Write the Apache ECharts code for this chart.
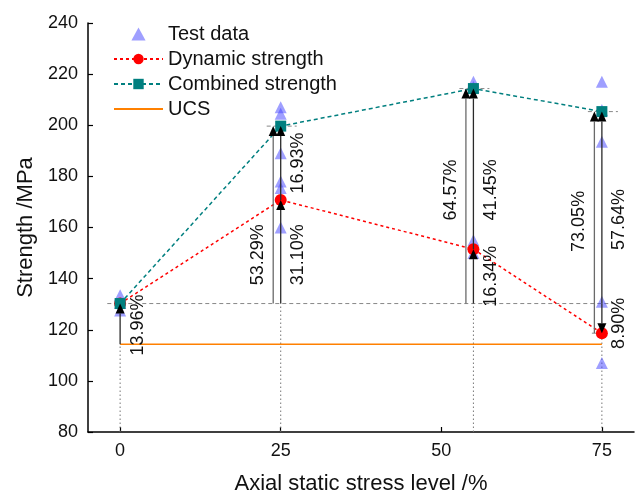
<!DOCTYPE html>
<html>
<head>
<meta charset="utf-8">
<script src="https://cdn.jsdelivr.net/npm/echarts@6/dist/echarts.min.js"></script>
<style>
  html, body { margin: 0; padding: 0; background: #fff; }
  #chart { width: 640px; height: 496px; }
</style>
</head>
<body>
<div id="chart"></div>
<script>
// Axial static stress levels (%) at which the rock was tested
const stressLevels = [0, 25, 55, 75];
const stressTicks = [0, 25, 50, 75];

// Strengths (MPa)
const ucsStrength = 114.3;
const dynamicStrength = [130.25, 170.76, 151.53, 118.66];
const combinedStrength = [130.25, 199.66, 214.35, 205.34];

// Individual specimen results
const testLevels = [0, 0, 0, 25, 25, 25, 25, 25, 25, 55, 55, 55, 55, 75, 75, 75, 75, 75];
const testValues = [133.5, 127.5, 130.5, 207, 204.5, 189, 178, 175.5, 160, 217, 215, 155, 150, 217, 206, 193.5, 131, 107];

// Relative changes annotated on the arrows
const gainLabels = ['13.96%', '53.29%', '31.10%', '16.93%', '64.57%', '16.34%', '41.45%', '73.05%', '57.64%', '8.90%'];

const FONT = "'Liberation Sans', Arial, sans-serif";
const base = dynamicStrength[0];

// Arrow spans: level index, start and end strength, which side of the level, label nudge (px)
const arrows = [
  { i: 0, from: ucsStrength, to: dynamicStrength[0], side: 'right', dy: 1 },
  { i: 1, from: base, to: combinedStrength[1], side: 'left', dy: 40 },
  { i: 1, from: base, to: dynamicStrength[1], side: 'right', dy: 3 },
  { i: 1, from: dynamicStrength[1], to: combinedStrength[1], side: 'right', dy: 0 },
  { i: 2, from: base, to: combinedStrength[2], side: 'left', dy: -6 },
  { i: 2, from: base, to: dynamicStrength[2], side: 'right', dy: 0 },
  { i: 2, from: dynamicStrength[2], to: combinedStrength[2], side: 'right', dy: 21 },
  { i: 3, from: dynamicStrength[3], to: combinedStrength[3], side: 'left', dy: -1 },
  { i: 3, from: base, to: combinedStrength[3], side: 'right', dy: 12 },
  { i: 3, from: base, to: dynamicStrength[3], side: 'right', dy: 5 }
].map((a, k) => Object.assign(a, { x: stressLevels[a.i], text: gainLabels[k] }));

// Lowest point reached by the arrows at each level (dotted drop line stops there)
const lowAt = stressLevels.map((_, i) => {
  let m = Infinity;
  arrows.filter(a => a.i === i).forEach(a => { m = Math.min(m, a.from, a.to); });
  return m;
});

const LEFT_SHIFT = -7.5;

function renderGuides(params, api) {
  const i = params.dataIndex;
  const x = stressLevels[i];
  const bottom = api.coord([x, 80]);
  const low = api.coord([x, lowAt[i]]);
  const children = [];
  children.push({
    type: 'line',
    shape: { x1: bottom[0], y1: bottom[1], x2: low[0], y2: low[1] },
    style: { stroke: '#777', lineWidth: 1, lineDash: [1.5, 2.5] }
  });
  if (i === 0) {
    const a = api.coord([-2, base]);
    const b = api.coord([77, base]);
    children.push({
      type: 'line',
      shape: { x1: a[0], y1: a[1], x2: b[0], y2: b[1] },
      style: { stroke: '#888', lineWidth: 1, lineDash: [4, 3] }
    });
  } else {
    const t = api.coord([x, combinedStrength[i]]);
    children.push({
      type: 'line',
      shape: { x1: t[0] - 14, y1: t[1], x2: t[0] + 16, y2: t[1] },
      style: { stroke: '#888', lineWidth: 1, lineDash: [4, 3] }
    });
  }
  if (i === 3) {
    const d = api.coord([x, dynamicStrength[i]]);
    children.push({
      type: 'line',
      shape: { x1: d[0] - 10, y1: d[1], x2: d[0] + 2, y2: d[1] },
      style: { stroke: '#888', lineWidth: 1, lineDash: [4, 3] }
    });
  }
  return { type: 'group', children };
}

function renderArrow(params, api) {
  const a = arrows[params.dataIndex];
  const p0 = api.coord([a.x, a.from]);
  const p1 = api.coord([a.x, a.to]);
  const px = p0[0] + (a.side === 'left' ? LEFT_SHIFT : 0);
  const dir = p0[1] > p1[1] ? 1 : -1;
  const head = 10, hw = 4.5;
  const tipY = p1[1];
  const baseY = tipY + dir * head;
  const labelX = px + (a.side === 'left' ? -15 : 17.5);
  const labelY = (p0[1] + p1[1]) / 2 + a.dy;
  return {
    type: 'group',
    children: [
      {
        type: 'line',
        shape: { x1: px, y1: p0[1], x2: px, y2: baseY },
        style: { stroke: a.side === 'left' ? '#6a6a6a' : '#2a2a2a', lineWidth: 1.3 }
      },
      {
        type: 'polygon',
        shape: { points: [[px, tipY], [px - hw, baseY], [px + hw, baseY]] },
        style: { fill: '#000' }
      },
      {
        type: 'text',
        x: labelX,
        y: labelY,
        rotation: Math.PI / 2,
        style: {
          text: a.text, fontSize: 18, fontFamily: FONT, fill: '#111',
          align: 'center', verticalAlign: 'middle'
        }
      }
    ]
  };
}

const chart = echarts.init(document.getElementById('chart'), null, { renderer: 'canvas' });
chart.setOption({
  animation: false,
  backgroundColor: '#fff',
  textStyle: { fontFamily: FONT },
  grid: { left: 88, right: 6, top: 23, bottom: 64, containLabel: false, outerBoundsMode: 'none' },
  legend: {
    orient: 'vertical',
    left: 113,
    top: 24,
    padding: 0,
    itemWidth: 49,
    itemHeight: 13,
    itemGap: 5,
    symbolKeepAspect: true,
    textStyle: { fontSize: 20, color: '#111', fontFamily: FONT, lineHeight: 20 },
    data: [
      { name: 'Test data', icon: 'path://M6,0 L12,11 L0,11 Z' },
      'Dynamic strength',
      'Combined strength',
      { name: 'UCS', itemStyle: { color: 'rgba(0,0,0,0)', borderWidth: 0 } }
    ]
  },
  xAxis: {
    type: 'value',
    min: -5,
    max: 80,
    name: 'Axial static stress level /%',
    nameLocation: 'middle',
    nameGap: 41,
    nameTextStyle: { fontSize: 22, color: '#111', fontFamily: FONT },
    axisLine: { show: true, onZero: false, lineStyle: { color: '#000', width: 1.5 } },
    axisTick: { show: true, inside: true, length: 5, customValues: stressTicks, lineStyle: { color: '#000', width: 1.2 } },
    axisLabel: { customValues: stressTicks, fontSize: 18, color: '#111', margin: 10, fontFamily: FONT },
    splitLine: { show: false }
  },
  yAxis: {
    type: 'value',
    min: 80,
    max: 240,
    interval: 20,
    name: 'Strength /MPa',
    nameLocation: 'middle',
    nameGap: 50,
    nameTextStyle: { fontSize: 22, color: '#111', fontFamily: FONT },
    axisLine: { show: true, onZero: false, lineStyle: { color: '#000', width: 1.5 } },
    axisTick: { show: true, inside: true, length: 5, lineStyle: { color: '#000', width: 1.2 } },
    axisLabel: { fontSize: 18, color: '#111', margin: 10, fontFamily: FONT },
    splitLine: { show: false }
  },
  series: [
    {
      name: 'guides',
      type: 'custom',
      renderItem: renderGuides,
      data: stressLevels.map((x, i) => [x, lowAt[i]]),
      silent: true,
      z: 1
    },
    {
      name: 'Test data',
      type: 'scatter',
      symbol: 'triangle',
      symbolSize: 12,
      itemStyle: { color: 'rgba(70,70,255,0.65)' },
      data: testLevels.map((x, i) => [x, testValues[i]]),
      z: 2
    },
    {
      name: 'UCS',
      type: 'line',
      symbol: 'none',
      lineStyle: { color: '#ff8000', width: 1.5 },
      itemStyle: { color: '#ff8000' },
      data: [[stressLevels[0], ucsStrength], [stressLevels[stressLevels.length - 1], ucsStrength]],
      z: 3
    },
    {
      name: 'Dynamic strength',
      type: 'line',
      symbol: 'circle',
      symbolSize: 12,
      lineStyle: { color: '#ff0000', width: 1.5, type: [3, 3] },
      itemStyle: { color: '#ff0000' },
      data: stressLevels.map((x, i) => [x, dynamicStrength[i]]),
      z: 4
    },
    {
      name: 'Combined strength',
      type: 'line',
      symbol: 'rect',
      symbolSize: 11,
      lineStyle: { color: '#007f7f', width: 1.5, type: [4, 3] },
      itemStyle: { color: '#007f7f' },
      data: stressLevels.map((x, i) => [x, combinedStrength[i]]),
      z: 4
    },
    {
      name: 'arrows',
      type: 'custom',
      renderItem: renderArrow,
      data: arrows.map(a => [a.x, a.from, a.to]),
      encode: { x: 0, y: [1, 2] },
      silent: true,
      z: 6
    }
  ]
});
</script>
</body>
</html>
